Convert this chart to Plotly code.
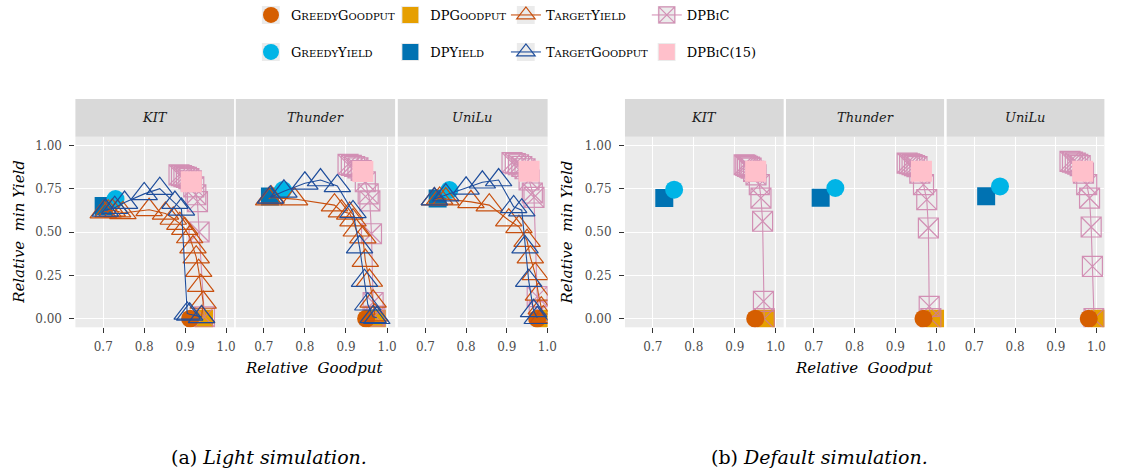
import plotly.graph_objects as go

W, H = 1127, 471


def fx(p):
    return p / W


def fy(p):
    return 1 - p / H


FONT = "DejaVu Serif"
facets = ["KIT", "Thunder", "UniLu"]
x_ticks = [0.7, 0.8, 0.9, 1.0]
x_tick_labels = ["0.7", "0.8", "0.9", "1.0"]
y_ticks = [0.0, 0.25, 0.5, 0.75, 1.0]
y_tick_labels = ["0.00", "0.25", "0.50", "0.75", "1.00"]

# ---------------- Light simulation (one value per facet) ----------------
light_greedy_goodput_x = [0.912, 0.949, 0.975]
light_greedy_goodput_y = [0.0, 0.0, 0.0]
light_dp_goodput_x = [0.946, 0.975, 0.992]
light_dp_goodput_y = [0.0, 0.0, 0.0]
light_greedy_yield_x = [0.730, 0.747, 0.759]
light_greedy_yield_y = [0.690, 0.742, 0.742]
light_dp_yield_x = [0.701, 0.715, 0.730]
light_dp_yield_y = [0.650, 0.705, 0.694]
light_dpbic15_x = [0.915, 0.941, 0.955]
light_dpbic15_y = [0.790, 0.849, 0.850]

light_dpbic_kit_x = [0.885, 0.891, 0.897, 0.903, 0.909, 0.915, 0.921, 0.926, 0.930, 0.934, 0.947]
light_dpbic_kit_y = [0.830, 0.825, 0.820, 0.815, 0.808, 0.795, 0.760, 0.715, 0.675, 0.500, 0.010]
light_dpbic_thunder_x = [0.905, 0.913, 0.921, 0.929, 0.937, 0.947, 0.954, 0.958, 0.962, 0.966, 0.970]
light_dpbic_thunder_y = [0.890, 0.885, 0.878, 0.870, 0.855, 0.790, 0.720, 0.680, 0.490, 0.093, 0.015]
light_dpbic_unilu_x = [0.913, 0.921, 0.929, 0.937, 0.945, 0.955, 0.963, 0.967, 0.975, 0.980]
light_dpbic_unilu_y = [0.900, 0.895, 0.888, 0.878, 0.865, 0.800, 0.725, 0.700, 0.127, 0.040]

light_tyield_kit_x = [0.700, 0.712, 0.722, 0.735, 0.748, 0.812, 0.852, 0.871, 0.887, 0.899, 0.911, 0.919, 0.927, 0.933, 0.938, 0.944, 0.940]
light_tyield_kit_y = [0.615, 0.620, 0.625, 0.620, 0.610, 0.628, 0.607, 0.578, 0.548, 0.519, 0.471, 0.413, 0.355, 0.277, 0.190, 0.093, 0.010]
light_tyield_thunder_x = [0.712, 0.718, 0.775, 0.872, 0.889, 0.909, 0.917, 0.925, 0.941, 0.947, 0.957, 0.966, 0.970]
light_tyield_thunder_y = [0.690, 0.700, 0.690, 0.655, 0.620, 0.607, 0.568, 0.510, 0.470, 0.335, 0.220, 0.100, 0.020]
light_tyield_unilu_x = [0.722, 0.735, 0.750, 0.812, 0.857, 0.905, 0.930, 0.950, 0.958, 0.970, 0.978, 0.985, 0.990]
light_tyield_unilu_y = [0.690, 0.694, 0.690, 0.674, 0.655, 0.568, 0.530, 0.450, 0.355, 0.258, 0.140, 0.060, 0.010]

light_tgood_kit_x = [0.705, 0.728, 0.752, 0.800, 0.838, 0.875, 0.891, 0.905, 0.911, 0.940]
light_tgood_kit_y = [0.625, 0.640, 0.670, 0.720, 0.750, 0.670, 0.630, 0.030, 0.025, 0.010]
light_tgood_thunder_x = [0.716, 0.749, 0.800, 0.838, 0.879, 0.917, 0.933, 0.945, 0.953, 0.966, 0.975]
light_tgood_thunder_y = [0.700, 0.735, 0.781, 0.800, 0.766, 0.616, 0.413, 0.219, 0.083, 0.010, 0.005]
light_tgood_unilu_x = [0.722, 0.750, 0.800, 0.840, 0.880, 0.917, 0.937, 0.945, 0.954, 0.966, 0.975]
light_tgood_unilu_y = [0.690, 0.713, 0.752, 0.787, 0.800, 0.645, 0.626, 0.413, 0.219, 0.045, 0.005]

# ---------------- Default simulation (one value per facet) ----------------
default_greedy_goodput_x = [0.950, 0.969, 0.981]
default_greedy_goodput_y = [0.0, 0.0, 0.0]
default_dp_goodput_x = [0.976, 0.998, 1.008]
default_dp_goodput_y = [0.0, 0.0, 0.0]
default_greedy_yield_x = [0.752, 0.753, 0.763]
default_greedy_yield_y = [0.744, 0.754, 0.763]
default_dp_yield_x = [0.728, 0.717, 0.729]
default_dp_yield_y = [0.696, 0.698, 0.706]
default_dpbic15_x = [0.951, 0.964, 0.966]
default_dpbic15_y = [0.850, 0.850, 0.850]

default_dpbic_kit_x = [0.923, 0.927, 0.931, 0.936, 0.940, 0.946, 0.952, 0.960, 0.964, 0.968, 0.970, 0.972]
default_dpbic_kit_y = [0.888, 0.884, 0.879, 0.874, 0.869, 0.850, 0.830, 0.773, 0.696, 0.562, 0.100, 0.000]
default_dpbic_thunder_x = [0.929, 0.935, 0.941, 0.947, 0.953, 0.960, 0.969, 0.977, 0.981, 0.983, 0.987]
default_dpbic_thunder_y = [0.898, 0.894, 0.889, 0.883, 0.877, 0.840, 0.773, 0.687, 0.523, 0.071, 0.000]
default_dpbic_unilu_x = [0.935, 0.941, 0.948, 0.954, 0.960, 0.968, 0.976, 0.983, 0.987, 0.990, 0.994]
default_dpbic_unilu_y = [0.908, 0.903, 0.898, 0.891, 0.883, 0.840, 0.773, 0.696, 0.529, 0.302, 0.000]

# ---------------- styles ----------------
C_GG = "#D55E00"
C_DPG = "#E69F00"
C_TY = "#C8500F"
C_BIC = "#CC79A7"
C_GY = "#00B4E6"
C_DPY = "#0072B2"
C_TG = "#1F4E9C"
C_BIC15 = "#FFC0CB"

SMALL = '<span style="font-size:10px">'


def sc(first, rest):
    return first + SMALL + rest + "</span>"


names = {
    "GG": sc("G", "REEDY") + sc("G", "OODPUT"),
    "DPG": "DPG" + SMALL + "OODPUT</span>",
    "TY": sc("T", "ARGET") + sc("Y", "IELD"),
    "BIC": "DPB" + SMALL + "I</span>C",
    "GY": sc("G", "REEDY") + sc("Y", "IELD"),
    "DPY": "DPY" + SMALL + "IELD</span>",
    "TG": sc("T", "ARGET") + sc("G", "OODPUT"),
    "BIC15": "DPB" + SMALL + "I</span>C(15)",
}
legend_of = {"GG": "legend", "GY": "legend2", "DPG": "legend3", "DPY": "legend4",
             "TY": "legend5", "TG": "legend6", "BIC": "legend7", "BIC15": "legend8"}

fig = go.Figure()

light = {
    "GG": (light_greedy_goodput_x, light_greedy_goodput_y),
    "DPG": (light_dp_goodput_x, light_dp_goodput_y),
    "GY": (light_greedy_yield_x, light_greedy_yield_y),
    "DPY": (light_dp_yield_x, light_dp_yield_y),
    "BIC15": (light_dpbic15_x, light_dpbic15_y),
}
default = {
    "GG": (default_greedy_goodput_x, default_greedy_goodput_y),
    "DPG": (default_dp_goodput_x, default_dp_goodput_y),
    "GY": (default_greedy_yield_x, default_greedy_yield_y),
    "DPY": (default_dp_yield_x, default_dp_yield_y),
    "BIC15": (default_dpbic15_x, default_dpbic15_y),
}
light_bic = [(light_dpbic_kit_x, light_dpbic_kit_y), (light_dpbic_thunder_x, light_dpbic_thunder_y),
             (light_dpbic_unilu_x, light_dpbic_unilu_y)]
default_bic = [(default_dpbic_kit_x, default_dpbic_kit_y), (default_dpbic_thunder_x, default_dpbic_thunder_y),
               (default_dpbic_unilu_x, default_dpbic_unilu_y)]
light_ty = [(light_tyield_kit_x, light_tyield_kit_y), (light_tyield_thunder_x, light_tyield_thunder_y),
            (light_tyield_unilu_x, light_tyield_unilu_y)]
light_tg = [(light_tgood_kit_x, light_tgood_kit_y), (light_tgood_thunder_x, light_tgood_thunder_y),
            (light_tgood_unilu_x, light_tgood_unilu_y)]

point_style = {
    "DPG": dict(symbol="square", size=18, color=C_DPG),
    "DPY": dict(symbol="square", size=18, color=C_DPY),
    "GG": dict(symbol="circle", size=18, color=C_GG),
    "GY": dict(symbol="circle", size=18, color=C_GY),
    "BIC15": dict(symbol="square", size=21, color=C_BIC15),
}


def add_point(key, xs, ys, k, ax, show):
    st = point_style[key]
    fig.add_trace(go.Scatter(
        x=[xs[k]], y=[ys[k]], mode="markers", name=names[key],
        marker=dict(symbol=st["symbol"], size=st["size"], color=st["color"], line=dict(width=0)),
        xaxis="x" + ax, yaxis="y" + ax, showlegend=show, legend=legend_of[key],
        hoverinfo="skip"))


def add_path(key, xs, ys, ax, show, color, symbol, size, opacity=1.0):
    fig.add_trace(go.Scatter(
        x=xs, y=ys, mode="lines+markers", name=names[key],
        line=dict(color=color, width=1.1),
        marker=dict(symbol=symbol, size=size, color=color, line=dict(color=color, width=1.2)),
        opacity=opacity,
        xaxis="x" + ax, yaxis="y" + ax, showlegend=show, legend=legend_of[key],
        hoverinfo="skip"))


for g, (pts, bic) in enumerate([(light, light_bic), (default, default_bic)]):
    for k in range(3):
        idx = g * 3 + k + 1
        ax = "" if idx == 1 else str(idx)
        show = idx == 1
        add_point("DPG", *pts["DPG"], k, ax, show)
        add_point("DPY", *pts["DPY"], k, ax, show)
        add_path("BIC", bic[k][0], bic[k][1], ax, show, C_BIC, "square-x-open", 20, 0.8)
        add_point("GG", *pts["GG"], k, ax, show)
        add_point("GY", *pts["GY"], k, ax, show)
        if g == 0:
            add_path("TY", light_ty[k][0], light_ty[k][1], ax, show, C_TY, "triangle-up-open", 23)
            add_path("TG", light_tg[k][0], light_tg[k][1], ax, show, C_TG, "triangle-up-open", 23)
        add_point("BIC15", *pts["BIC15"], k, ax, show)

# ---------------- axes / panels ----------------
panel_x = [(76, 236), (237.7, 398.3), (401, 552), (630, 790), (792.3, 951.7), (954.3, 1113.3)]
panel_top, panel_bot = 136.7, 327.3
strip_top = 99
x_ranges = [[0.632, 1.0195], [0.632, 1.0195], [0.632, 1.0005],
            [0.632, 1.0195], [0.632, 1.0195], [0.632, 1.0195]]

layout = dict(
    width=W, height=H, margin=dict(l=0, r=0, t=0, b=0),
    paper_bgcolor="white", plot_bgcolor="#EBEBEB",
    font=dict(family=FONT, color="#000000", size=13),
    shapes=[], annotations=[],
)

for i in range(6):
    idx = i + 1
    s = "" if idx == 1 else str(idx)
    x0, x1 = panel_x[i]
    layout["xaxis" + s] = dict(
        domain=[fx(x0), fx(x1)], range=x_ranges[i], anchor="y" + s,
        tickvals=x_ticks, ticktext=x_tick_labels, ticks="outside", ticklen=5,
        tickcolor="#333333", tickwidth=1.1, showgrid=True, gridcolor="white", gridwidth=1.4,
        zeroline=False, showline=False, ticklabelstandoff=3,
        tickfont=dict(family=FONT, size=12, color="#4D4D4D"), fixedrange=True)
    first = i in (0, 3)
    layout["yaxis" + s] = dict(
        domain=[fy(panel_bot), fy(panel_top)], range=[-0.05, 1.05], anchor="x" + s,
        tickvals=y_ticks, ticktext=y_tick_labels,
        ticks="outside" if first else "", ticklen=5, tickcolor="#333333", tickwidth=1.1,
        showticklabels=first, showgrid=True, gridcolor="white", gridwidth=1.4,
        zeroline=False, showline=False, ticklabelstandoff=5,
        tickfont=dict(family=FONT, size=12, color="#4D4D4D"), fixedrange=True)
    layout["shapes"].append(dict(
        type="rect", xref="paper", yref="paper", x0=fx(x0), x1=fx(x1),
        y0=fy(panel_top), y1=fy(strip_top), fillcolor="#D9D9D9", line=dict(width=0), layer="below"))
    layout["annotations"].append(dict(
        text="<i>" + facets[i % 3] + "</i>", xref="paper", yref="paper",
        x=fx((x0 + x1) / 2), y=fy((strip_top + panel_top) / 2), showarrow=False,
        xanchor="center", yanchor="middle", font=dict(family=FONT, size=13, color="#1A1A1A")))

# axis titles & captions
for cx, ytx in [(317, 19), (871, 572)]:
    layout["annotations"].append(dict(
        text="<i>Relative  Goodput</i>", xref="paper", yref="paper", x=fx(cx), y=fy(368),
        showarrow=False, xanchor="center", yanchor="middle", font=dict(family=FONT, size=15)))
    layout["annotations"].append(dict(
        text="<i>Relative  min Yield</i>", xref="paper", yref="paper", x=fx(ytx),
        y=fy((panel_top + panel_bot) / 2), showarrow=False, textangle=-90,
        xanchor="center", yanchor="middle", font=dict(family=FONT, size=15)))

layout["annotations"].append(dict(
    text="(a) <i>Light simulation.</i>", xref="paper", yref="paper", x=fx(271), y=fy(457),
    showarrow=False, xanchor="center", yanchor="middle", font=dict(family=FONT, size=19)))
layout["annotations"].append(dict(
    text="(b) <i>Default simulation.</i>", xref="paper", yref="paper", x=fx(826), y=fy(457),
    showarrow=False, xanchor="center", yanchor="middle", font=dict(family=FONT, size=19)))

# legend: 4 columns x 2 rows, each entry its own legend box
col_x = [273, 413.5, 530, 672]
row_y = [15, 52]
legend_order = [("legend", 0, 0), ("legend2", 0, 1), ("legend3", 1, 0), ("legend4", 1, 1),
                ("legend5", 2, 0), ("legend6", 2, 1), ("legend7", 3, 0), ("legend8", 3, 1)]
for lname, c, r in legend_order:
    layout[lname] = dict(
        x=fx(col_x[c] - 20), y=fy(row_y[r]), xanchor="left", yanchor="middle",
        bgcolor="rgba(0,0,0,0)", borderwidth=0, orientation="v",
        font=dict(family=FONT, size=13, color="#000000"), itemsizing="trace")
    layout["shapes"].append(dict(
        type="rect", xref="paper", yref="paper",
        x0=fx(col_x[c] - 9), x1=fx(col_x[c] + 9), y0=fy(row_y[r] + 9), y1=fy(row_y[r] - 9),
        fillcolor="#EBEBEB", line=dict(width=0), layer="above"))

fig.update_layout(**layout)
fig.write_html("out.html")
